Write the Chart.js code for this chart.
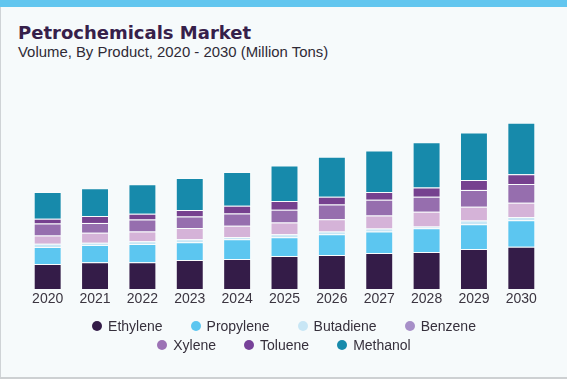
<!DOCTYPE html>
<html>
<head>
<meta charset="utf-8">
<script src="https://cdn.jsdelivr.net/npm/chart.js@4.4.1/dist/chart.umd.min.js"></script>
<style>
  html, body { margin:0; padding:0; }
  body { width:567px; height:379px; background:#f6fafb; position:relative; overflow:hidden; font-family:"Liberation Sans", Arial, sans-serif; }
  #topbar { position:absolute; left:0; top:0; width:567px; height:7px; background:#62c6ef; }
  #leftline { position:absolute; left:0; top:7px; width:1px; height:372px; background:#cfd3d6; }
  #bottomline { position:absolute; left:0; bottom:0; width:567px; height:2px; background:#cdd0d2; }
  #title { position:absolute; left:18px; top:23px; font-family:"DejaVu Sans", sans-serif; font-size:18px; line-height:19px; font-weight:bold; color:#36204a; white-space:nowrap; }
  #subtitle { position:absolute; left:18px; top:45px; font-size:14.9px; line-height:14.5px; color:#2f2a36; white-space:nowrap; }
  #wrap { position:absolute; left:0; top:0; width:567px; height:379px; }
  #legend { position:absolute; left:74px; width:420px; top:318px; display:flex; flex-wrap:wrap; justify-content:center; row-gap:3px; }
  .item { display:flex; align-items:center; font-size:14px; line-height:16px; color:#36303c; margin:0 14px; white-space:nowrap; }
  .dot { width:10px; height:10px; border-radius:50%; margin-right:6px; }
</style>
</head>
<body>
<div id="topbar"></div>
<div id="leftline"></div>
<div id="bottomline"></div>
<div id="title">Petrochemicals Market</div>
<div id="subtitle">Volume, By Product, 2020 - 2030 (Million Tons)</div>
<div id="wrap"><canvas id="c" width="567" height="379"></canvas></div>
<div id="legend"></div>
<script>
const years = ["2020","2021","2022","2023","2024","2025","2026","2027","2028","2029","2030"];
const seriesNames = ["Ethylene","Propylene","Butadiene","Benzene","Xylene","Toluene","Methanol"];
const ethylene  = [127,135,135,147,152,167,172,182,187,202,214];
const propylene = [85,87,92,90,99,95,105,109,120,125,133];
const butadiene = [17,12,14,14,12,15,14,15,9,19,17];
const benzene   = [42,50,50,57,57,59,62,65,75,70,72];
const xylene    = [60,50,60,59,62,65,74,80,75,85,95];
const toluene   = [24,35,29,32,39,44,40,39,47,50,49];
const methanol  = [135,140,150,162,170,180,202,210,229,240,260];
const seriesValues = [ethylene, propylene, butadiene, benzene, xylene, toluene, methanol];
const barColors    = ["#341c48","#5cc6f0","#c8e6f5","#d5b3d8","#966eae","#76418f","#178aab"];
const legendColors = ["#341c48","#5cc6f0","#c8e6f5","#a78fc8","#9c72b5","#774299","#178aab"];

const datasets = seriesNames.map((name, i) => ({
  label: name,
  data: seriesValues[i],
  backgroundColor: barColors[i],
  borderColor: "rgba(255,255,255,0.35)",
  borderWidth: 1,
  barPercentage: 0.59,
  categoryPercentage: 1.0
}));

new Chart(document.getElementById("c"), {
  type: "bar",
  data: { labels: years, datasets },
  options: {
    responsive: false,
    animation: false,
    layout: { padding: { top: 111, bottom: 69.2, left: 24, right: 22 } },
    plugins: { legend: { display: false }, tooltip: { enabled: false }, title: { display: false } },
    scales: {
      x: {
        stacked: true,
        grid: { display: false, drawTicks: false },
        border: { display: false },
        ticks: { color: "#3b3540", font: { family: "Liberation Sans", size: 14 }, padding: 2, maxRotation: 0 }
      },
      y: {
        stacked: true,
        display: false,
        min: 0,
        max: 900
      }
    }
  }
});

const legend = document.getElementById("legend");
seriesNames.forEach((name, i) => {
  const it = document.createElement("div");
  it.className = "item";
  const d = document.createElement("span");
  d.className = "dot";
  d.style.background = legendColors[i];
  const t = document.createElement("span");
  t.textContent = name;
  it.appendChild(d); it.appendChild(t);
  legend.appendChild(it);
});
</script>
</body>
</html>
